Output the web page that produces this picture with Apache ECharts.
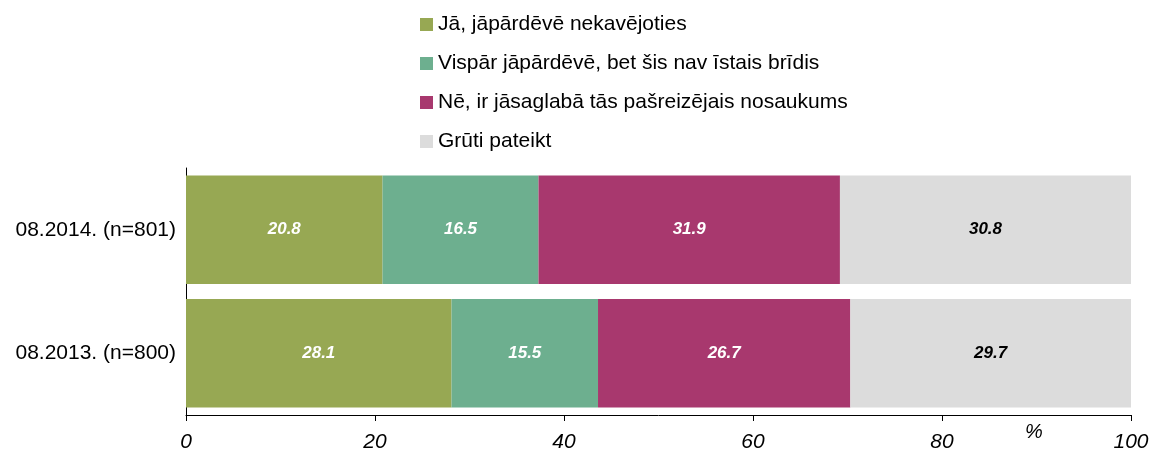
<!DOCTYPE html>
<html>
<head>
<meta charset="utf-8">
<script src="https://cdn.jsdelivr.net/npm/echarts@6/dist/echarts.min.js"></script>
<style>
  html, body { margin: 0; padding: 0; background: #fff; }
  #chart-container { width: 1152px; height: 455px; }
</style>
</head>
<body>
<div id="chart-container"></div>
<script>
var categories = ['08.2013. (n=800)', '08.2014. (n=801)'];
var seriesNames = [
    'Jā, jāpārdēvē nekavējoties',
    'Vispār jāpārdēvē, bet šis nav īstais brīdis',
    'Nē, ir jāsaglabā tās pašreizējais nosaukums',
    'Grūti pateikt'
];
var valuesYes = [28.1, 20.8];
var valuesLater = [15.5, 16.5];
var valuesNo = [26.7, 31.9];
var valuesHard = [29.7, 30.8];
var colors = ['#97a853', '#6daf8f', '#a8386e', '#dcdcdc'];
var labelColors = ['#ffffff', '#ffffff', '#ffffff', '#000000'];

var dom = document.getElementById('chart-container');
var myChart = echarts.init(dom, null, { renderer: 'canvas' });

var fontFamily = 'Liberation Sans, Arial, sans-serif';
var allValues = [valuesYes, valuesLater, valuesNo, valuesHard];

var series = allValues.map(function (vals, i) {
    return {
        name: seriesNames[i],
        type: 'bar',
        stack: 'total',
        data: vals,
        barCategoryGap: '12%',
        itemStyle: { color: colors[i] },
        label: {
            show: true,
            position: 'inside',
            formatter: function (p) { return p.value.toFixed(1); },
            color: labelColors[i],
            fontFamily: fontFamily,
            fontSize: 17,
            fontWeight: 'bold',
            fontStyle: 'italic'
        },
        emphasis: { disabled: true }
    };
});

var option = {
    animation: false,
    color: colors,
    legend: {
        orient: 'vertical',
        left: 420,
        top: 14,
        padding: 0,
        itemWidth: 13,
        itemHeight: 13,
        itemGap: 18,
        itemTextGap: 11,
        icon: 'rect',
        data: seriesNames,
        textStyle: { fontFamily: fontFamily, fontSize: 21, color: '#000' }
    },
    grid: { left: 186, right: 21, top: 168, bottom: 40, containLabel: false },
    xAxis: {
        type: 'value',
        min: 0,
        max: 100,
        interval: 20,
        splitLine: { show: false },
        axisLine: { show: true, lineStyle: { color: '#000', width: 1 } },
        axisTick: { show: true, length: 6, lineStyle: { color: '#000' } },
        axisLabel: {
            color: '#000',
            fontFamily: fontFamily,
            fontSize: 21,
            fontStyle: 'italic',
            margin: 17
        }
    },
    yAxis: {
        type: 'category',
        data: categories,
        axisLine: { show: true, lineStyle: { color: '#000', width: 1 } },
        axisTick: { show: false },
        axisLabel: {
            color: '#000',
            fontFamily: fontFamily,
            fontSize: 21,
            margin: 10
        }
    },
    graphic: [{
        type: 'text',
        left: 1025,
        top: 422,
        style: {
            text: '%',
            font: 'italic 20px Liberation Sans, Arial, sans-serif',
            fill: '#000'
        }
    }],
    series: series
};

myChart.setOption(option);
window.addEventListener('resize', myChart.resize);
</script>
</body>
</html>
